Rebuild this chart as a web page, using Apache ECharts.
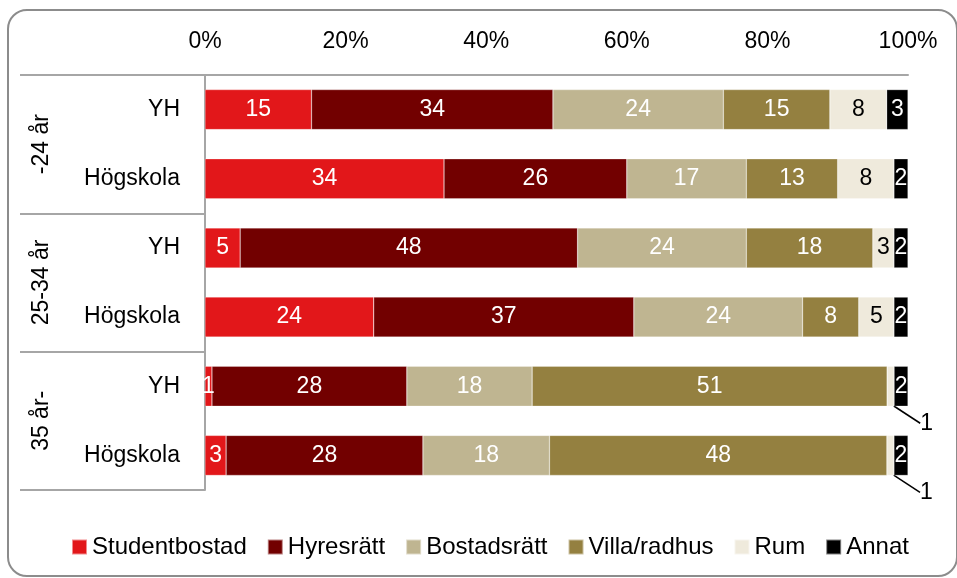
<!DOCTYPE html>
<html>
<head>
<meta charset="utf-8">
<script src="https://cdn.jsdelivr.net/npm/echarts@6/dist/echarts.min.js"></script>
<style>
  html, body { margin: 0; padding: 0; background: #fff; }
  #chart { width: 957px; height: 578px; position: relative; }
  #frame {
    position: absolute; left: 7px; top: 9px; width: 947px; height: 564px;
    border: 2px solid #8c8c8c; border-radius: 20px; pointer-events: none;
  }
</style>
</head>
<body>
<div id="chart"></div>
<div id="frame"></div>
<script>
const rows = ['YH', 'Högskola', 'YH', 'Högskola', 'YH', 'Högskola']
const groups = ['-24 år', '25-34 år', '35 år-']
const types = ['Studentbostad', 'Hyresrätt', 'Bostadsrätt', 'Villa/radhus', 'Rum', 'Annat']

const studentbostad = [15, 34, 5, 24, 1, 3]
const hyresratt = [34, 26, 48, 37, 28, 28]
const bostadsratt = [24, 17, 24, 24, 18, 18]
const villa = [15, 13, 18, 8, 51, 48]
const rum = [8, 8, 3, 5, 1, 1]
const annat = [3, 2, 2, 2, 2, 2]

const colors = ['#e2171a', '#720000', '#bfb591', '#948040', '#efeadc', '#000000']
const labelColors = ['#fff', '#fff', '#fff', '#fff', '#000', '#fff']
const FONT = '"Liberation Sans", Arial, sans-serif'

const all = [studentbostad, hyresratt, bostadsratt, villa, rum, annat]
const totals = rows.map((_, i) => all.reduce((s, arr) => s + arr[i], 0))

const series = all.map((vals, k) => ({
  name: types[k],
  type: 'bar',
  stack: 'total',
  barWidth: 40,
  itemStyle: { color: colors[k], borderColor: 'rgba(255,255,255,0.5)', borderWidth: 0.5 },
  label: {
    show: true,
    position: 'inside',
    color: labelColors[k],
    fontFamily: FONT,
    fontSize: 23,
    formatter: (p) => vals[p.dataIndex]
  },
  labelLayout: k === 4 ? (p) => (p.dataIndex >= 4 ? { dx: 36, dy: 37 } : {}) : undefined,
  data: vals.map((v, i) => {
    const item = { value: (v / totals[i]) * 100 }
    if (k === 4 && i >= 4) {
      item.labelLine = { show: true, lineStyle: { color: '#000', width: 1.5 } }
    }
    return item
  })
}))

const chart = echarts.init(document.getElementById('chart'))
chart.setOption({
  animation: false,
  color: colors,
  textStyle: { fontFamily: FONT, color: '#000' },
  grid: { left: 205, right: 49, top: 75, bottom: 88, containLabel: false },
  legend: {
    left: 66,
    top: 530,
    icon: 'rect',
    itemWidth: 15,
    itemHeight: 15,
    itemGap: 20,
    textStyle: { fontFamily: FONT, fontSize: 24, color: '#000' },
    data: types
  },
  xAxis: {
    type: 'value',
    position: 'top',
    min: 0,
    max: 100,
    interval: 20,
    axisLine: { show: true, lineStyle: { color: '#a6a6a6', width: 2 } },
    axisTick: { show: false },
    splitLine: { show: false },
    axisLabel: { formatter: '{value}%', fontFamily: FONT, fontSize: 23, color: '#000', margin: 22 }
  },
  yAxis: [
    {
      type: 'category',
      inverse: true,
      data: rows,
      axisLine: { show: true, lineStyle: { color: '#a6a6a6', width: 2 } },
      axisTick: { show: false },
      axisLabel: { fontFamily: FONT, fontSize: 23, color: '#000', margin: 25 }
    },
    {
      type: 'category',
      inverse: true,
      position: 'left',
      data: groups,
      axisLine: { show: false },
      axisTick: { show: true, length: 185, lineStyle: { color: '#a6a6a6', width: 2 } },
      axisLabel: { fontFamily: FONT, fontSize: 23, color: '#000', rotate: 90, margin: 163, align: 'center', verticalAlign: 'middle' }
    }
  ],
  series
})
</script>
</body>
</html>
